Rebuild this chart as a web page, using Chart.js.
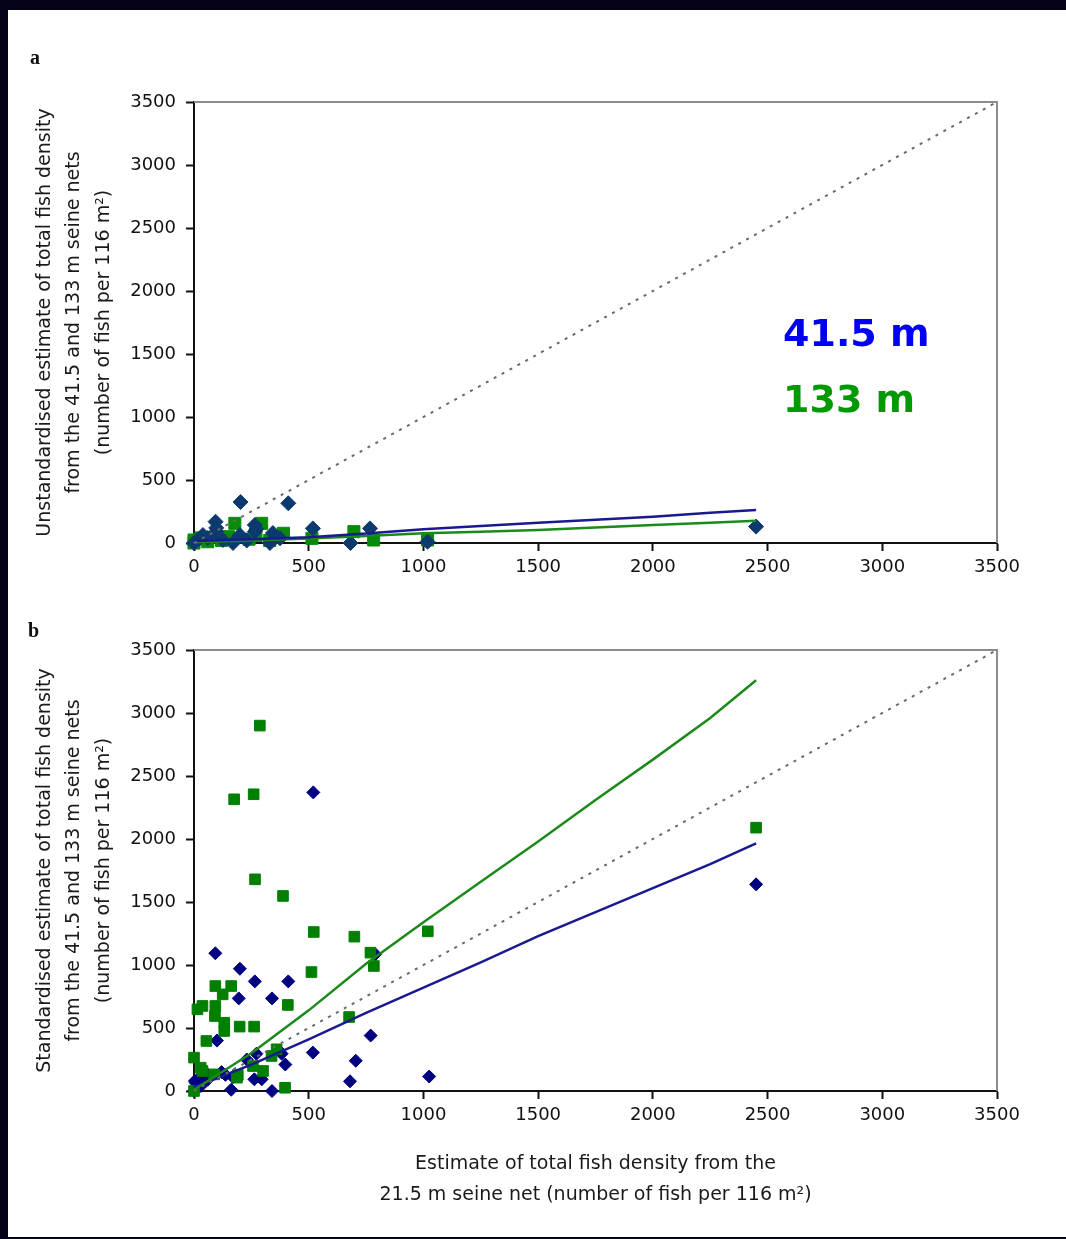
<!DOCTYPE html>
<html>
<head>
<meta charset="utf-8">
<script src="https://cdn.jsdelivr.net/npm/chart.js@4.4.0/dist/chart.umd.min.js"></script>
<style>
  html, body { margin: 0; padding: 0; }
  body { background: #03031a; width: 1066px; height: 1239px; position: relative; overflow: hidden; }
  #sheet { position: absolute; left: 8px; top: 10px; width: 1058px; height: 1227px; background: #fff; }
  canvas { position: absolute; left: 0; }
  .panel { position: absolute; font-family: "Liberation Serif", serif; font-weight: bold; font-size: 20px; line-height: 20px; color: #111; }
  .lbl { position: absolute; font-family: "DejaVu Sans", sans-serif; font-weight: bold; font-size: 38px; line-height: 38px; white-space: nowrap; }
</style>
</head>
<body>
<div id="sheet"></div>
<canvas id="chartA" width="1066" height="600" style="top:0px"></canvas>
<canvas id="chartB" width="1066" height="639" style="top:600px"></canvas>
<div class="panel" style="left:30px; top:47px;">a</div>
<div class="panel" style="left:28px; top:620px;">b</div>
<div class="lbl" style="left:783px; top:314px; color:#0000f5;">41.5 m</div>
<div class="lbl" style="left:783px; top:380px; color:#009a00;">133 m</div>
<script>
// panel a: unstandardised estimates
const blueA_x = [203, 411, 94, 97, 265, 265, 272, 518, 767, 39, 682, 170, 331, 0, 200, 344, 97, 2450, 1018, 20, 60, 126, 375, 230];
const blueA_y = [325, 315, 169, 120, 143, 90, 110, 116, 116, 63, 0, 0, 0, 0, 63, 79, 90, 130, 10, 30, 40, 24, 37, 20];
const greenA_x = [178, 295, 390, 697, 783, 514, 0, 60, 120, 240, 330, 1018, 0, 150, 270, 30];
const greenA_y = [156, 156, 77, 90, 24, 37, 24, 10, 20, 30, 20, 24, 0, 50, 60, 40];

// panel b: standardised estimates
const blueB_x = [93, 520, 200, 265, 195, 340, 411, 100, 518, 770, 705, 680, 1025, 398, 272, 263, 295, 340, 162, 137, 50, 7, 382, 790, 4, 44, 20, 60, 120, 170, 2450, 0, 30, 230, 373];
const blueB_y = [1093, 2370, 970, 870, 735, 735, 870, 400, 305, 440, 240, 77, 115, 210, 296, 93, 93, 0, 10, 128, 138, 66, 296, 1085, 80, 159, 100, 90, 150, 110, 1640, 0, 40, 250, 317];
const greenB_x = [287, 175, 260, 266, 388, 522, 699, 1019, 769, 784, 512, 93, 162, 125, 37, 15, 93, 91, 132, 132, 199, 262, 54, 409, 676, 0, 29, 37, 88, 191, 257, 301, 338, 360, 397, 0, 187, 2450];
const greenB_y = [2900, 2315, 2355, 1680, 1548, 1262, 1225, 1267, 1098, 992, 944, 833, 833, 767, 675, 648, 675, 595, 542, 476, 511, 511, 397, 683, 587, 265, 185, 159, 132, 127, 198, 159, 278, 331, 26, 0, 106, 2090];

// fitted curves
const fitX = [0, 250, 500, 750, 1000, 1250, 1500, 1750, 2000, 2250, 2450];
const blueFitA = [15, 30, 45, 75, 109, 135, 161, 185, 209, 240, 262];
const greenFitA = [5, 20, 35, 55, 77, 90, 103, 123, 143, 160, 177];
const blueFitB = [30, 210, 410, 620, 820, 1020, 1230, 1420, 1610, 1800, 1966];
const greenFitB = [10, 300, 640, 1010, 1340, 1660, 1980, 2310, 2630, 2960, 3260];
const oneToOne = [0, 3500];

const axisTicks = [0, 500, 1000, 1500, 2000, 2500, 3000, 3500];

function pts(xs, ys) {
  return xs.map((x, i) => ({ x: x, y: ys[i] }));
}

// grey frame on top and right of plot area
const frameBox = {
  id: 'frameBox',
  beforeDatasetsDraw: (chart) => {
    const { ctx, chartArea: { top, bottom, left, right } } = chart;
    ctx.save();
    ctx.strokeStyle = '#8c8c8c';
    ctx.lineWidth = 2;
    ctx.beginPath();
    ctx.moveTo(left, top);
    ctx.lineTo(right, top);
    ctx.lineTo(right, bottom);
    ctx.stroke();
    ctx.restore();
  }
};

function lineSet(data, color, dash, width) {
  return {
    data: data,
    showLine: true,
    borderColor: color,
    borderWidth: width || 2.5,
    borderDash: dash || [],
    pointRadius: 0,
    fill: false,
    clip: false,
  };
}

function markerSet(data, color, style, radius) {
  return {
    data: data,
    showLine: false,
    pointStyle: style,
    pointRadius: radius,
    backgroundColor: color,
    borderColor: color,
    borderWidth: 1,
    clip: false,
  };
}

function options(cfg) {
  return {
    responsive: false,
    animation: false,
    layout: { padding: cfg.padding },
    plugins: {
      legend: { display: false },
      tooltip: { enabled: false },
    },
    scales: {
      x: {
        type: 'linear',
        min: 0,
        max: 3500,
        afterBuildTicks: (s) => { s.ticks = axisTicks.map(v => ({ value: v })); },
        ticks: {
          color: '#111',
          font: { family: 'DejaVu Sans', size: 18 },
          padding: 6,
          callback: (v) => String(v),
        },
        grid: { drawOnChartArea: false, tickLength: 8, tickColor: '#111', tickWidth: 2 },
        border: { color: '#111', width: 2 },
        title: cfg.xTitle,
        afterFit: (s) => { s.height = cfg.xHeight; },
      },
      y: {
        type: 'linear',
        min: 0,
        max: 3500,
        afterBuildTicks: (s) => { s.ticks = axisTicks.map(v => ({ value: v })); },
        ticks: {
          color: '#111',
          font: { family: 'DejaVu Sans', size: 18 },
          padding: 10,
          callback: (v) => String(v),
        },
        grid: { drawOnChartArea: false, tickLength: 8, tickColor: '#111', tickWidth: 2 },
        border: { color: '#111', width: 2 },
        title: {
          display: true,
          text: cfg.yTitle,
          color: '#1a1a1a',
          font: { family: 'DejaVu Sans', size: 19, lineHeight: 1.55 },
          padding: { top: 10, bottom: 0 },
        },
        afterFit: (s) => { s.width = 174; },
      },
    },
  };
}

new Chart(document.getElementById('chartA'), {
  type: 'scatter',
  data: {
    datasets: [
      lineSet(pts(oneToOne, oneToOne), '#6a6a6a', [3, 6], 2),
      lineSet(pts(fitX, blueFitA), '#1a1a90'),
      lineSet(pts(fitX, greenFitA), '#1b8a1b'),
      markerSet(pts(blueA_x, blueA_y), '#0d3a6e', 'rectRot', 7.5),
      markerSet(pts(greenA_x, greenA_y), '#0a8a0a', 'rect', 8.5),
    ]
  },
  options: options({
    padding: { top: 102, right: 69, left: 20, bottom: 7 },
    xHeight: 50,
    xTitle: { display: false },
    yTitle: ['Unstandardised estimate of total fish density', 'from the 41.5 and 133 m seine nets', '(number of fish per 116 m\u00b2)'],
  }),
  plugins: [frameBox]
});

new Chart(document.getElementById('chartB'), {
  type: 'scatter',
  data: {
    datasets: [
      lineSet(pts(oneToOne, oneToOne), '#6a6a6a', [3, 6], 2),
      lineSet(pts(fitX, greenFitB), '#1b8a1b'),
      lineSet(pts(fitX, blueFitB), '#1a1a90'),
      markerSet(pts(greenB_x, greenB_y), '#007f00', 'rect', 7.5),
      markerSet(pts(blueB_x, blueB_y), '#000080', 'rectRot', 6.5),
    ]
  },
  options: options({
    padding: { top: 50, right: 69, left: 20, bottom: 28 },
    xHeight: 120,
    xTitle: {
      display: true,
      text: ['Estimate of total fish density from the', '21.5 m seine net (number of fish per 116 m\u00b2)'],
      color: '#1a1a1a',
      font: { family: 'DejaVu Sans', size: 19, lineHeight: 1.63 },
      padding: { top: 0, bottom: 0 },
    },
    yTitle: ['Standardised estimate of total fish density', 'from the 41.5 and 133 m seine nets', '(number of fish per 116 m\u00b2)'],
  }),
  plugins: [frameBox]
});
</script>
</body>
</html>
